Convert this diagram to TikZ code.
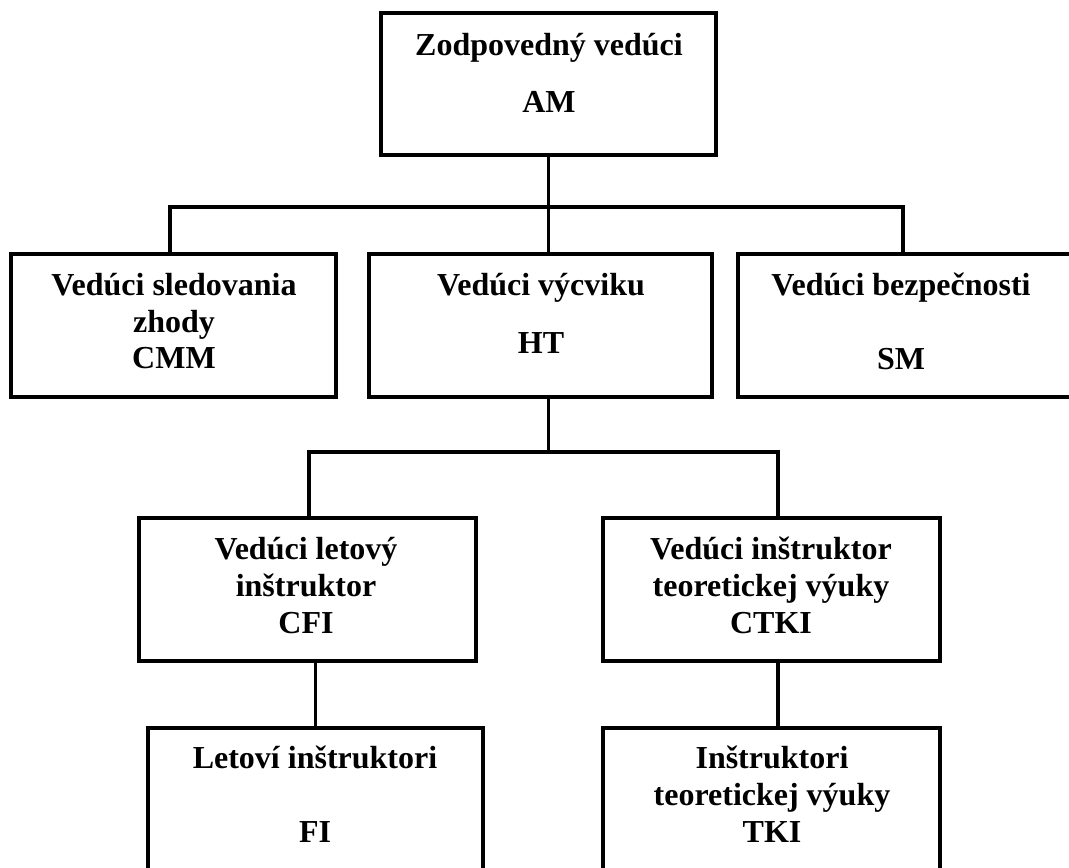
\documentclass[tikz,border=0pt]{standalone}
\usepackage{fontspec}
\setmainfont{Liberation Serif}
\begin{document}
\begin{tikzpicture}[x=1pt,y=-1pt,
  orgbox/.style={draw=black,line width=4pt,rectangle,inner sep=0pt,fill=white},
  lbl/.style={anchor=base,inner sep=0pt,font=\fontsize{32}{37}\selectfont\bfseries},
  conn/.style={draw=black,line width=3.5pt,line cap=rect}]
\useasboundingbox (0,0) rectangle (1069,868);
\clip (0,0) rectangle (1069,868);
% boxes
\node[orgbox,minimum width=335pt,minimum height=142pt] (am) at (548.5,84) {};
\node[orgbox,minimum width=325pt,minimum height=143pt] (cmm) at (173.5,325.5) {};
\node[orgbox,minimum width=343pt,minimum height=143pt] (ht) at (540.5,325.5) {};
\node[orgbox,minimum width=342pt,minimum height=143pt] (sm) at (909,325.5) {};
\node[orgbox,minimum width=337pt,minimum height=143pt] (cfi) at (307.5,589.5) {};
\node[orgbox,minimum width=337pt,minimum height=143pt] (ctki) at (771.5,589.5) {};
\node[orgbox,minimum width=335pt,minimum height=170pt] (fi) at (315.5,813) {};
\node[orgbox,minimum width=337pt,minimum height=170pt] (tki) at (771.5,813) {};
% labels
\node[lbl] (am1) at (549,55) {Zodpovedný vedúci};
\node[lbl] (am2) at (549,112) {AM};
\node[lbl] (cmm1) at (174,295) {Vedúci sledovania};
\node[lbl] (cmm2) at (174,332) {zhody};
\node[lbl] (cmm3) at (174,368) {CMM};
\node[lbl] (ht1) at (541,295) {Vedúci výcviku};
\node[lbl] (ht2) at (541,353) {HT};
\node[lbl] (sm1) at (901,295) {Vedúci bezpečnosti};
\node[lbl] (sm2) at (901,369) {SM};
\node[lbl] (cfi1) at (306,559) {Vedúci letový};
\node[lbl] (cfi2) at (306,596) {inštruktor};
\node[lbl] (cfi3) at (306,633) {CFI};
\node[lbl] (ctki1) at (771,559) {Vedúci inštruktor};
\node[lbl] (ctki2) at (771,596) {teoretickej výuky};
\node[lbl] (ctki3) at (771,633) {CTKI};
\node[lbl] (fi1) at (315,768) {Letoví inštruktori};
\node[lbl] (fi2) at (315,842) {FI};
\node[lbl] (tki1) at (772,768) {Inštruktori};
\node[lbl] (tki2) at (772,805) {teoretickej výuky};
\node[lbl] (tki3) at (772,842) {TKI};
% junctions
\coordinate (b1l) at (170,207);
\coordinate (b1r) at (903,207);
\coordinate (b2l) at (309,452);
\coordinate (b2r) at (778,452);
% connectors
\draw[conn] (am.south) -- (am.south |- ht.north);
\draw[conn] (b1l |- cmm.north) -- (b1l) -- (b1r) -- (b1r |- sm.north);
\draw[conn] (am.south |- ht.south) -- (am.south |- b2l);
\draw[conn] (b2l |- cfi.north) -- (b2l) -- (b2r) -- (b2r |- ctki.north);
\draw[conn] (fi.north |- cfi.south) -- (fi.north);
\draw[conn] (b2r |- ctki.south) -- (b2r |- tki.north);
\end{tikzpicture}
\end{document}
